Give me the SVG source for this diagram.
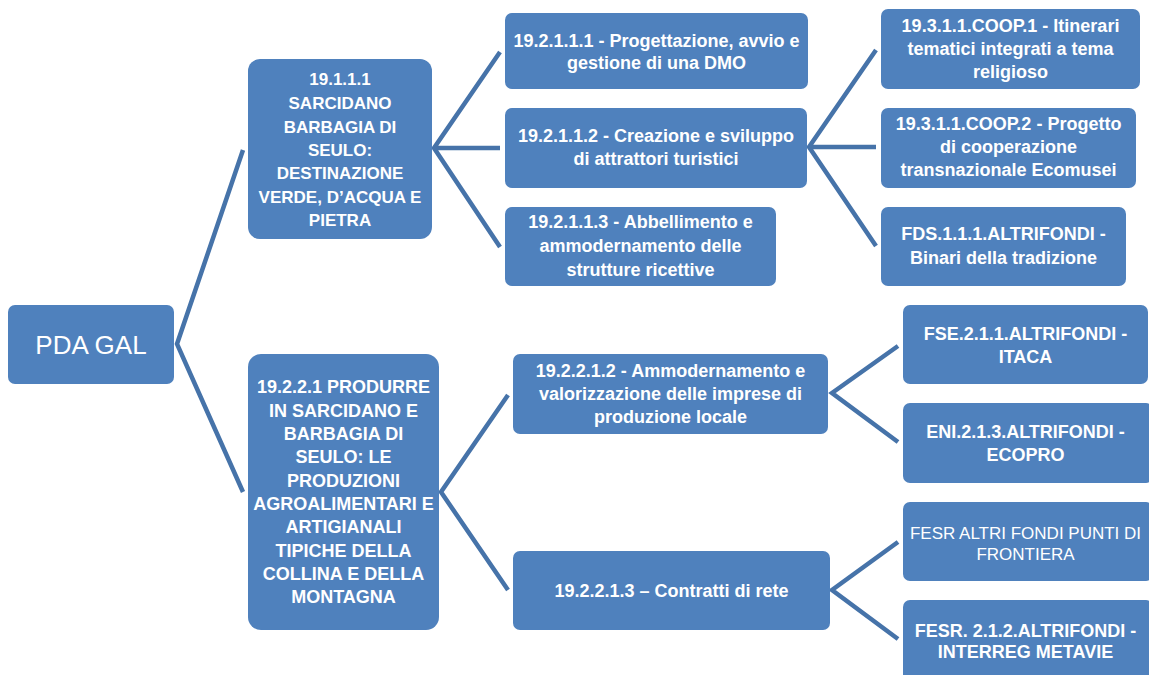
<svg xmlns="http://www.w3.org/2000/svg" width="1149" height="675" viewBox="0 0 1149 675">
<style>
.n{fill:#4F81BD;}
.t{fill:#FFFFFF;font-family:"Liberation Sans",Arial,sans-serif;font-size:18px;font-weight:bold;text-anchor:middle;}
.s{font-size:17px;}
.r{font-weight:normal;font-size:17px;}
.c{fill:none;stroke:#4673A9;stroke-width:4.5;stroke-linecap:butt;stroke-linejoin:miter;}
</style>
<rect width="1149" height="675" fill="#FFFFFF"/>
<g id="connectors">
<path class="c" d="M243,150 L177,344 L243,492"/>
<path class="c" d="M500,52 L434,148 L500,247 M434,148 L500,148"/>
<path class="c" d="M876,50 L809,147 L876,246 M809,147 L876,147"/>
<path class="c" d="M508,395 L441,492 L508,590"/>
<path class="c" d="M898,346 L832,393 L898,442"/>
<path class="c" d="M898,542 L832,590 L898,639"/>
</g>
<g id="n0">
<rect class="n" x="8" y="305" width="166" height="79" rx="7"/>
<text class="t" x="91" y="354" style="font-weight:normal;font-size:26px">PDA GAL</text>
</g>
<g id="n1">
<rect class="n" x="248" y="59" width="184" height="180" rx="12"/>
<text class="t s" x="340"><tspan x="340" y="85">19.1.1.1</tspan><tspan x="340" y="109">SARCIDANO</tspan><tspan x="340" y="133">BARBAGIA DI</tspan><tspan x="340" y="156">SEULO:</tspan><tspan x="340" y="179">DESTINAZIONE</tspan><tspan x="340" y="203">VERDE, D’ACQUA E</tspan><tspan x="340" y="226">PIETRA</tspan></text>
</g>
<g id="n2">
<rect class="n" x="248" y="354" width="191" height="276" rx="13"/>
<text class="t" x="343.5"><tspan x="343.5" y="393">19.2.2.1 PRODURRE</tspan><tspan x="343.5" y="417">IN SARCIDANO E</tspan><tspan x="343.5" y="440">BARBAGIA DI</tspan><tspan x="343.5" y="463">SEULO: LE</tspan><tspan x="343.5" y="487">PRODUZIONI</tspan><tspan x="343.5" y="510">AGROALIMENTARI E</tspan><tspan x="343.5" y="533">ARTIGIANALI</tspan><tspan x="343.5" y="557">TIPICHE DELLA</tspan><tspan x="343.5" y="580">COLLINA E DELLA</tspan><tspan x="343.5" y="603">MONTAGNA</tspan></text>
</g>
<g id="n3">
<rect class="n" x="505" y="13" width="303" height="76" rx="7"/>
<text class="t"><tspan x="656.5" y="47">19.2.1.1.1 - Progettazione, avvio e</tspan><tspan x="656.5" y="69">gestione di una DMO</tspan></text>
</g>
<g id="n4">
<rect class="n" x="505" y="108" width="302" height="80" rx="7"/>
<text class="t"><tspan x="656" y="142">19.2.1.1.2 - Creazione e sviluppo</tspan><tspan x="656" y="165">di attrattori turistici</tspan></text>
</g>
<g id="n5">
<rect class="n" x="505" y="207" width="271" height="79" rx="7"/>
<text class="t"><tspan x="640.5" y="228">19.2.1.1.3 - Abbellimento e</tspan><tspan x="640.5" y="252">ammodernamento delle</tspan><tspan x="640.5" y="276">strutture ricettive</tspan></text>
</g>
<g id="n6">
<rect class="n" x="513" y="354" width="315" height="80" rx="7"/>
<text class="t"><tspan x="670.5" y="377">19.2.2.1.2 - Ammodernamento e</tspan><tspan x="670.5" y="400">valorizzazione delle imprese di</tspan><tspan x="670.5" y="423">produzione locale</tspan></text>
</g>
<g id="n7">
<rect class="n" x="513" y="551" width="317" height="79" rx="7"/>
<text class="t" x="671.5" y="597">19.2.2.1.3 – Contratti di rete</text>
</g>
<g id="n8">
<rect class="n" x="881" y="9" width="259" height="80" rx="7"/>
<text class="t"><tspan x="1010.5" y="32">19.3.1.1.COOP.1 - Itinerari</tspan><tspan x="1010.5" y="55">tematici integrati a tema</tspan><tspan x="1010.5" y="78">religioso</tspan></text>
</g>
<g id="n9">
<rect class="n" x="881" y="108" width="255" height="80" rx="7"/>
<text class="t"><tspan x="1008.5" y="130">19.3.1.1.COOP.2 - Progetto</tspan><tspan x="1008.5" y="153">di cooperazione</tspan><tspan x="1008.5" y="176">transnazionale Ecomusei</tspan></text>
</g>
<g id="n10">
<rect class="n" x="881" y="207" width="245" height="79" rx="7"/>
<text class="t"><tspan x="1003.5" y="240">FDS.1.1.1.ALTRIFONDI -</tspan><tspan x="1003.5" y="264">Binari della tradizione</tspan></text>
</g>
<g id="n11">
<rect class="n" x="903" y="305" width="245" height="79" rx="7"/>
<text class="t"><tspan x="1025.5" y="340">FSE.2.1.1.ALTRIFONDI -</tspan><tspan x="1025.5" y="363">ITACA</tspan></text>
</g>
<g id="n12">
<rect class="n" x="903" y="403" width="250" height="80" rx="7"/>
<text class="t"><tspan x="1025.5" y="438">ENI.2.1.3.ALTRIFONDI -</tspan><tspan x="1025.5" y="461">ECOPRO</tspan></text>
</g>
<g id="n13">
<rect class="n" x="903" y="502" width="250" height="79" rx="7"/>
<text class="t r"><tspan x="1025.5" y="539">FESR ALTRI FONDI PUNTI DI</tspan><tspan x="1025.5" y="560">FRONTIERA</tspan></text>
</g>
<g id="n14">
<rect class="n" x="903" y="600" width="250" height="85" rx="7"/>
<text class="t"><tspan x="1025.5" y="637">FESR. 2.1.2.ALTRIFONDI -</tspan><tspan x="1025.5" y="658">INTERREG METAVIE</tspan></text>
</g>
</svg>
